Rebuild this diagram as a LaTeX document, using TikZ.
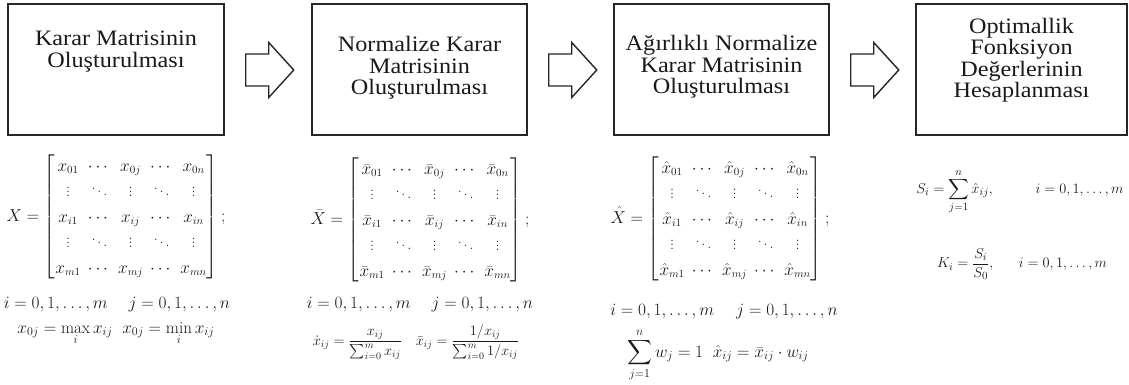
\documentclass[tikz,border=0pt]{standalone}
\usepackage{amsmath}
\usepackage{fontspec}
\newfontfamily\boxfont[FakeStretch=1.1]{Liberation Serif}
\usetikzlibrary{calc}
\newcommand\xmat[1]{%
\renewcommand\arraystretch{1.34}\setlength\arraycolsep{3.6pt}%
\begin{bmatrix}
#1{x}_{01} & \cdots & #1{x}_{0j} & \cdots & #1{x}_{0n}\\
\vdots & \ddots & \vdots & \ddots & \vdots\\
#1{x}_{i1} & \cdots & #1{x}_{ij} & \cdots & #1{x}_{in}\\
\vdots & \ddots & \vdots & \ddots & \vdots\\
#1{x}_{m1} & \cdots & #1{x}_{mj} & \cdots & #1{x}_{mn}
\end{bmatrix}}
\begin{document}
\begin{tikzpicture}[x=1pt,y=-1pt,
  stepbox/.style={draw=black!85, line width=1.5pt, minimum width=#1, minimum height=131pt, inner sep=0pt},
  boxtext/.style={font=\boxfont\fontsize{22}{21.5}\selectfont, align=center, inner sep=0pt, text=black!90},
  blockarrow/.style={draw=black!85, line width=1.4pt, line join=miter, fill=white},
  eq/.style={inner sep=0pt, text=black!90}]
\useasboundingbox (0,0) rectangle (1129,385);
% boxes
\node[stepbox=216pt] (b1) at (116,69.5) {};
\node[stepbox=215pt] (b2) at (419.5,69.5) {};
\node[stepbox=215pt] (b3) at (721.5,69.5) {};
\node[stepbox=211pt] (b4) at (1021.5,69.5) {};
% box texts
\node[boxtext] (t1) at (116,51.5) {Karar Matrisinin\\Oluşturulması};
\node[boxtext] (t2) at (419.5,68) {Normalize Karar\\Matrisinin\\Oluşturulması};
\node[boxtext] (t3) at (721.5,67) {Ağırlıklı Normalize\\Karar Matrisinin\\Oluşturulması};
\node[boxtext] (t4) at (1021.5,60) {Optimallik\\Fonksiyon\\Değerlerinin\\Hesaplanması};
% block arrows between boxes
\foreach \b/\a in {b1/a1,b2/a2,b3/a3}{
  \path (\b.east) ++(21,0.5) coordinate (\a);
  \draw[blockarrow] (\a) ++(0,-16) -- ++(23,0) -- ++(0,-11.5) -- ++(25,27.5)
     -- ++(-25,27.5) -- ++(0,-11.5) -- ++(-23,0) -- cycle;
}
% panel 1
\node[eq, font=\fontsize{16}{19}\selectfont] (m1) at (116,217) {$X=\xmat{\relax};$};
\node[eq, font=\fontsize{16}{19}\selectfont, anchor=base] (r1) at (117,308) {$i=0,1,\ldots,m\hspace{1.3em} j=0,1,\ldots,n$};
\node[eq, font=\fontsize{17}{20}\selectfont, anchor=base] (f1) at (116,333) {$x_{0j}=\max\limits_i x_{ij}\;\; x_{0j}=\min\limits_i x_{ij}$};
% panel 2
\node[eq, font=\fontsize{16}{19}\selectfont] (m2) at (420,220) {$\bar{X}=\xmat{\bar};$};
\node[eq, font=\fontsize{16}{19}\selectfont, anchor=base] (r2) at (420,308) {$i=0,1,\ldots,m\hspace{1.3em} j=0,1,\ldots,n$};
\node[eq, font=\fontsize{14}{17}\selectfont] (f2) at (416,342) {$\dot{x}_{ij}=\dfrac{x_{ij}}{\sum_{i=0}^m x_{ij}}\quad \bar{x}_{ij}=\dfrac{1/x_{ij}}{\sum_{i=0}^m 1/x_{ij}}$};
% panel 3
\node[eq, font=\fontsize{16}{19}\selectfont] (m3) at (720,219) {$\hat{X}=\xmat{\hat};$};
\node[eq, font=\fontsize{17}{20}\selectfont, anchor=base] (r3) at (724,315) {$i=0,1,\ldots,m\hspace{1.3em} j=0,1,\ldots,n$};
\node[eq, font=\fontsize{17}{20}\selectfont, anchor=base] (f3) at (718,357) {$\displaystyle\sum_{j=1}^n w_j=1\;\;\hat{x}_{ij}=\bar{x}_{ij}\cdot w_{ij}$};
% panel 4
\node[eq, font=\fontsize{15.5}{18}\selectfont, anchor=base] (s4) at (1020,193) {$S_i=\displaystyle\sum_{j=1}^n\hat{x}_{ij},\hspace{2.6em} i=0,1,\ldots,m$};
\node[eq, font=\fontsize{15.5}{18}\selectfont] (k4) at (1022,264) {$K_i=\dfrac{S_i}{S_0},\hspace{1.5em} i=0,1,\ldots,m$};
\end{tikzpicture}
\end{document}
